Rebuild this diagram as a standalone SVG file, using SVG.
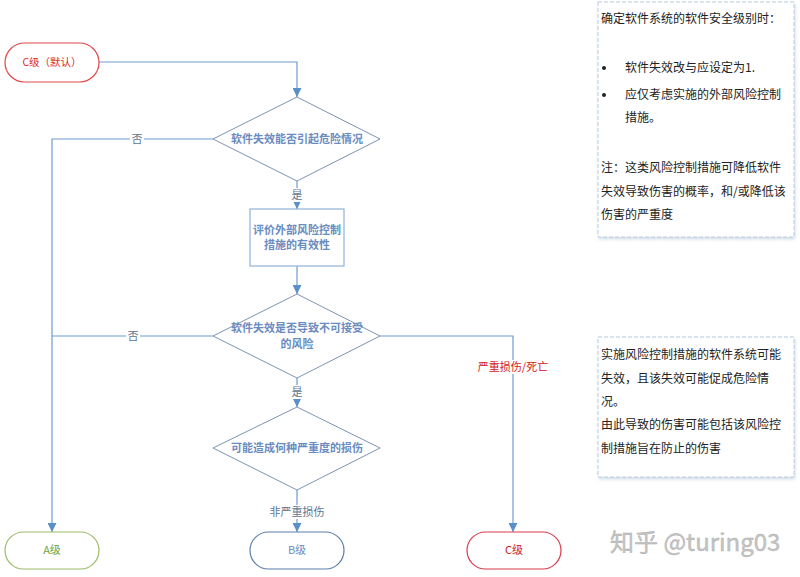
<svg xmlns="http://www.w3.org/2000/svg" width="800" height="577" viewBox="0 0 800 577">
<defs>
<marker id="arr" viewBox="0 0 10 10" refX="10" refY="5" markerWidth="9" markerHeight="9" markerUnits="userSpaceOnUse" orient="auto">
<path d="M0,0 L10,5 L0,10 z" fill="#5b8fc9"/>
</marker>
<filter id="sh" x="-10%" y="-10%" width="120%" height="120%">
<feDropShadow dx="1" dy="2" stdDeviation="1.5" flood-color="#a9bdd6" flood-opacity="0.5"/>
</filter>
<style>
text{font-family:"Noto Sans CJK SC","Liberation Sans",sans-serif;}
.conn{fill:none;stroke:#6c9bd2;stroke-width:1.2;}
.dia{fill:#fff;stroke:#7d93b3;stroke-width:1;}
.nt{font-size:11px;font-weight:bold;fill:#6a8cc0;text-anchor:middle;}
.lbl{font-size:11px;fill:#5f7590;text-anchor:middle;}
.note{fill:#fff;stroke:#b8cbe0;stroke-width:1;stroke-dasharray:4,2;filter:url(#sh);}
.nx{font-size:12px;fill:#222;}
.term{fill:#fff;stroke-width:1.2;}
.bul{fill:#222;}
</style>
</defs>
<rect width="800" height="577" fill="#fff"/>

<g id="connectors">
<path class="conn" d="M99,62 H297 V97" marker-end="url(#arr)"/>
<path class="conn" d="M213,139 H52 V532" marker-end="url(#arr)"/>
<path class="conn" d="M297,181 V209" marker-end="url(#arr)"/>
<path class="conn" d="M297,266 V294" marker-end="url(#arr)"/>
<path class="conn" d="M213,336 H52"/>
<path class="conn" d="M380,336 H513 V532" marker-end="url(#arr)"/>
<path class="conn" d="M297,378 V407" marker-end="url(#arr)"/>
<path class="conn" d="M297,490 V532" marker-end="url(#arr)"/>
<rect x="130" y="132" width="14" height="14" fill="#fff"/>
<text class="lbl" x="137" y="143">否</text>
<rect x="126" y="329" width="14" height="14" fill="#fff"/>
<text class="lbl" x="133" y="340">否</text>
<rect x="290" y="188" width="14" height="14" fill="#fff"/>
<text class="lbl" x="297" y="199">是</text>
<rect x="290" y="385" width="14" height="14" fill="#fff"/>
<text class="lbl" x="297" y="396">是</text>
<rect x="269" y="505" width="56" height="14" fill="#fff"/>
<text class="lbl" x="297" y="516">非严重损伤</text>
<rect x="479" y="360" width="68" height="14" fill="#fff"/>
<text class="lbl" x="513" y="371" style="fill:#d42020">严重损伤/死亡</text>
</g>

<g id="start">
<rect class="term" x="5" y="43" width="94" height="39" rx="19.5" stroke="#e04848"/>
<text x="52" y="66" font-size="10.5" fill="#e02a2a" text-anchor="middle">C级（默认）</text>
</g>

<g id="d1">
<polygon class="dia" points="297,97 380,139 297,181 213,139"/>
<text class="nt" x="297" y="143">软件失效能否引起危险情况</text>
</g>

<g id="evaluate">
<rect x="250" y="209" width="94" height="57" fill="#fff" stroke="#8fb3da" stroke-width="1.2"/>
<text class="nt" x="297" y="234">评价外部风险控制</text>
<text class="nt" x="297" y="249">措施的有效性</text>
</g>

<g id="d2">
<polygon class="dia" points="297,294 380,336 297,378 213,336"/>
<text class="nt" x="297" y="332">软件失效是否导致不可接受</text>
<text class="nt" x="297" y="348">的风险</text>
</g>

<g id="d3">
<polygon class="dia" points="297,407 380,448 297,490 213,448"/>
<text class="nt" x="297" y="452">可能造成何种严重度的损伤</text>
</g>

<g id="classA">
<rect class="term" x="5" y="532" width="94" height="37" rx="18.5" stroke="#9bbb6a"/>
<text x="52" y="554" font-size="11" fill="#6fa33a" text-anchor="middle">A级</text>
</g>

<g id="classB">
<rect class="term" x="250" y="532" width="94" height="37" rx="18.5" stroke="#5a7fa8"/>
<text x="297" y="554" font-size="11" fill="#6a8cc8" text-anchor="middle">B级</text>
</g>

<g id="classC">
<rect class="term" x="467" y="532" width="94" height="37" rx="18.5" stroke="#d83a4a"/>
<text x="514" y="554" font-size="11" fill="#d42020" text-anchor="middle">C级</text>
</g>

<g id="note1">
<rect class="note" x="598" y="2" width="196" height="235"/>
<text class="nx" x="601" y="23">确定软件系统的软件安全级别时：</text>
<circle class="bul" cx="604" cy="68" r="2"/>
<text class="nx" x="625" y="72">软件失效改与应设定为1.</text>
<circle class="bul" cx="604" cy="95" r="2"/>
<text class="nx" x="625" y="99">应仅考虑实施的外部风险控制</text>
<text class="nx" x="625" y="122">措施。</text>
<text class="nx" x="601" y="172">注：这类风险控制措施可降低软件</text>
<text class="nx" x="601" y="196">失效导致伤害的概率，和/或降低该</text>
<text class="nx" x="601" y="219">伤害的严重度</text>
</g>

<g id="note2">
<rect class="note" x="598" y="337" width="196" height="140"/>
<text class="nx" x="601" y="359">实施风险控制措施的软件系统可能</text>
<text class="nx" x="601" y="383">失效，且该失效可能促成危险情</text>
<text class="nx" x="601" y="406">况。</text>
<text class="nx" x="601" y="429">由此导致的伤害可能包括该风险控</text>
<text class="nx" x="601" y="453">制措施旨在防止的伤害</text>
</g>

<text x="610" y="551" font-size="24" fill="#c4c4c4" stroke="#b0b0b0" stroke-width="0.4">知乎 @turing03</text>
</svg>
